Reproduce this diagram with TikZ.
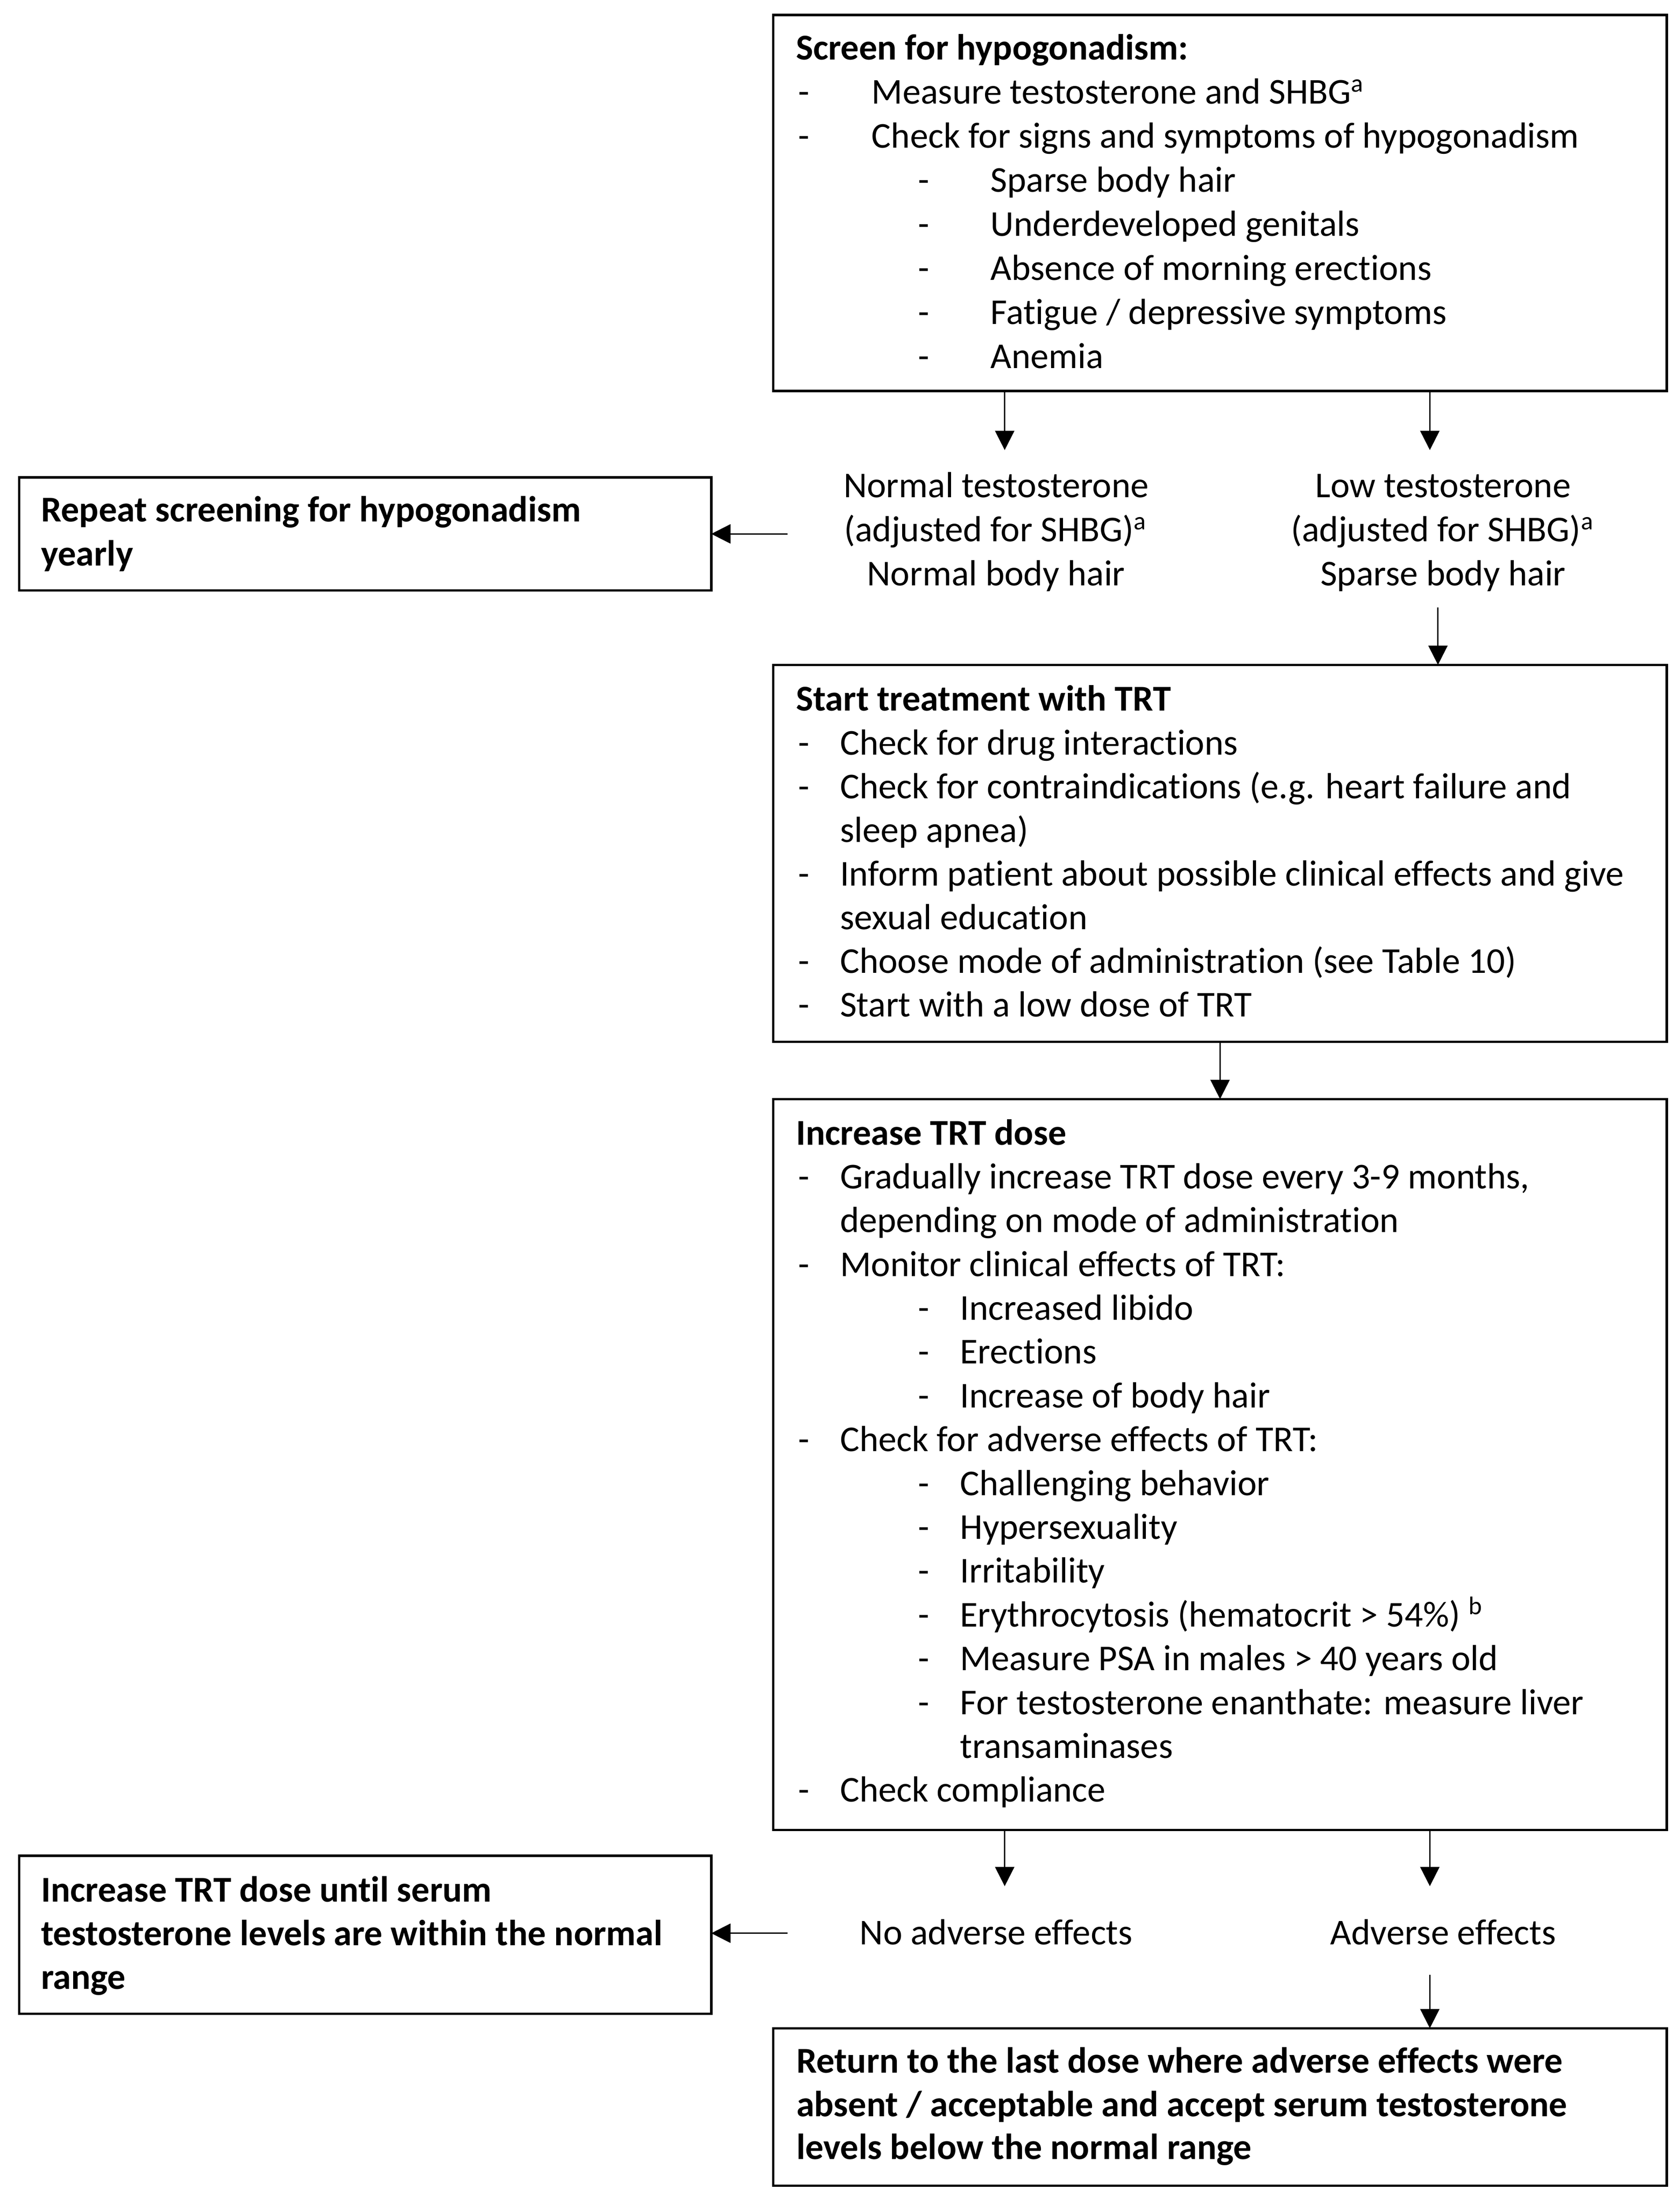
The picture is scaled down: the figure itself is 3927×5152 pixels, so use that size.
\documentclass[tikz,border=0pt]{standalone}
\usepackage{fontspec}
\setmainfont{Carlito}[Ligatures=NoCommon]
\usetikzlibrary{arrows.meta}
\begin{document}
\begin{tikzpicture}[x=0.1pt,y=-0.1pt,
  box/.style={draw, line width=0.55pt, inner sep=0pt, outer sep=0pt},
  rbox/.style={box, minimum width=208.9pt},
  lbox/.style={box, minimum width=161.8pt},
  txt/.style={anchor=base west, inner sep=0pt, outer sep=0pt, font=\fontsize{8.5}{10.25}\selectfont},
  btxt/.style={txt, font=\fontsize{8.5}{10.25}\selectfont\bfseries},
  ctxt/.style={txt, anchor=base},
  arr/.style={line width=0.28pt, -{Triangle[length=4.5pt,width=4.5pt]}}]
\useasboundingbox (0,0) rectangle (3927,5152);

% boxes
\node[rbox, minimum height=87.9pt] (b1) at (2852.5,474.5) {};
\node[rbox, minimum height=88.1pt] (b2) at (2852.5,1994.5) {};
\node[rbox, minimum height=170.9pt] (b3) at (2852.5,3423.5) {};
\node[rbox, minimum height=36.8pt] (b4) at (2852.5,4925) {};
\node[lbox, minimum height=26.4pt] (L1) at (854,1248) {};
\node[lbox, minimum height=36.9pt] (L2) at (854,4522.5) {};

% top box text
\node[btxt] (t10) at (1861,140) {Screen for hypogonadism:};
\node[txt] (t11) at (1867,243) {\makebox[17.1pt][l]{-}Measure testosterone and SHBG\textsuperscript{a}};
\node[txt] (t12) at (1867,346) {\makebox[17.1pt][l]{-}Check for signs and symptoms of hypogonadism};
\node[txt] (t13) at (2147,449) {\makebox[16.9pt][l]{-}Sparse body hair};
\node[txt] (t14) at (2147,552) {\makebox[16.9pt][l]{-}Underdeveloped genitals};
\node[txt] (t15) at (2147,655) {\makebox[16.9pt][l]{-}Absence of morning erections};
\node[txt] (t16) at (2147,758) {\makebox[16.9pt][l]{-}Fatigue / depressive symptoms};
\node[txt] (t17) at (2147,861) {\makebox[16.9pt][l]{-}Anemia};

% branch labels 1
\node[ctxt] (n1) at (2329,1163) {Normal testosterone};
\node[ctxt] (n2) at (2329,1266) {(adjusted for SHBG)\textsuperscript{a}};
\node[ctxt] (n3) at (2329,1369) {Normal body hair};
\node[ctxt] (w1) at (3374,1163) {Low testosterone};
\node[ctxt] (w2) at (3374,1266) {(adjusted for SHBG)\textsuperscript{a}};
\node[ctxt] (w3) at (3374,1369) {Sparse body hair};

% left box 1
\node[btxt] (r1) at (96,1219) {Repeat screening for hypogonadism};
\node[btxt] (r2) at (96,1322) {yearly};

% box 2
\node[btxt] (s0) at (1861,1661) {Start treatment with TRT};
\node[txt] (s1) at (1867,1765) {\makebox[9.7pt][l]{-}Check for drug interactions};
\node[txt] (s2) at (1867,1867) {\makebox[9.7pt][l]{-}Check for contraindications (e.g. heart failure and};
\node[txt] (s3) at (1964,1969) {sleep apnea)};
\node[txt] (s4) at (1867,2071) {\makebox[9.7pt][l]{-}Inform patient about possible clinical effects and give};
\node[txt] (s5) at (1964,2173) {sexual education};
\node[txt] (s6) at (1867,2275) {\makebox[9.7pt][l]{-}Choose mode of administration (see Table 10)};
\node[txt] (s7) at (1867,2377) {\makebox[9.7pt][l]{-}Start with a low dose of TRT};

% box 3
\node[btxt] (i0) at (1861,2676) {Increase TRT dose};
\node[txt] (i1) at (1867,2778.4) {\makebox[9.7pt][l]{-}Gradually increase TRT dose every 3-9 months,};
\node[txt] (i2) at (1964,2880.8) {depending on mode of administration};
\node[txt] (i3) at (1867,2983.2) {\makebox[9.7pt][l]{-}Monitor clinical effects of TRT:};
\node[txt] (i4) at (2147,3085.6) {\makebox[9.8pt][l]{-}Increased libido};
\node[txt] (i5) at (2147,3188) {\makebox[9.8pt][l]{-}Erections};
\node[txt] (i6) at (2147,3290.4) {\makebox[9.8pt][l]{-}Increase of body hair};
\node[txt] (i7) at (1867,3392.8) {\makebox[9.7pt][l]{-}Check for adverse effects of TRT:};
\node[txt] (i8) at (2147,3495.2) {\makebox[9.8pt][l]{-}Challenging behavior};
\node[txt] (i9) at (2147,3597.6) {\makebox[9.8pt][l]{-}Hypersexuality};
\node[txt] (i10) at (2147,3700) {\makebox[9.8pt][l]{-}Irritability};
\node[txt] (i11) at (2147,3802.4) {\makebox[9.8pt][l]{-}Erythrocytosis (hematocrit > 54\%) \textsuperscript{b}};
\node[txt] (i12) at (2147,3904.8) {\makebox[9.8pt][l]{-}Measure PSA in males > 40 years old};
\node[txt] (i13) at (2147,4007.2) {\makebox[9.8pt][l]{-}For testosterone enanthate: measure liver};
\node[txt] (i14) at (2245,4109.6) {transaminases};
\node[txt] (i15) at (1867,4212) {\makebox[9.7pt][l]{-}Check compliance};

% branch labels 2
\node[ctxt] (na) at (2329,4546) {No adverse effects};
\node[ctxt] (ad) at (3374,4546) {Adverse effects};

% left box 2
\node[btxt] (u1) at (96,4446) {Increase TRT dose until serum};
\node[btxt] (u2) at (96,4548) {testosterone levels are within the normal};
\node[btxt] (u3) at (96,4650) {range};

% bottom box
\node[btxt] (v1) at (1862,4845) {Return to the last dose where adverse effects were};
\node[btxt] (v2) at (1862,4947) {absent / acceptable and accept serum testosterone};
\node[btxt] (v3) at (1862,5047) {levels below the normal range};

% connectors
\coordinate (aN) at (2349,1052);
\coordinate (aL) at (3343,1052);
\draw[arr] (b1.south -| aN) -- (aN);
\draw[arr] (b1.south -| aL) -- (aL);
\coordinate (rS) at (1841,1248);
\draw[arr] (rS) -- (L1.east |- rS);
\coordinate (lS) at (3362,1420);
\draw[arr] (lS) -- (b2.north -| lS);
\draw[arr] (b2.south) -- (b3.north);
\coordinate (nA) at (2349,4409);
\coordinate (aA) at (3343,4409);
\draw[arr] (b3.south -| nA) -- (nA);
\draw[arr] (b3.south -| aA) -- (aA);
\coordinate (iS) at (1841,4519);
\draw[arr] (iS) -- (L2.east |- iS);
\coordinate (adS) at (3343,4616);
\draw[arr] (adS) -- (b4.north -| adS);
\end{tikzpicture}
\end{document}
